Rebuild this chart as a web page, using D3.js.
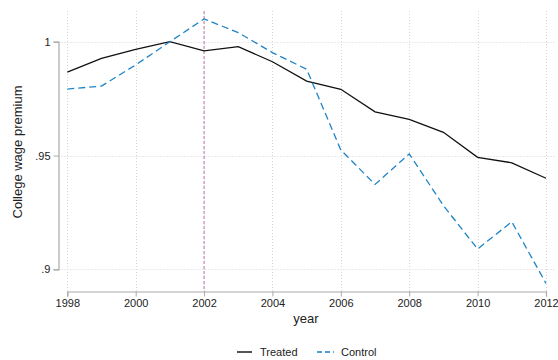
<!DOCTYPE html>
<html><head><meta charset="utf-8">
<script src="https://cdn.jsdelivr.net/npm/d3@7"></script>
<style>body{margin:0;background:#fff}svg{display:block}text{font-family:"Liberation Sans",Arial,sans-serif;fill:#222}</style>
</head><body>
<script>
const years = [1998,1999,2000,2001,2002,2003,2004,2005,2006,2007,2008,2009,2010,2011,2012];
const treated = [0.9866,0.9927,0.9966,1.0000,0.9960,0.9978,0.9912,0.9827,0.9791,0.9692,0.9659,0.9602,0.9492,0.9468,0.9400];
const control = [0.9792,0.9805,0.9898,1.0000,1.0100,1.0040,0.9952,0.9879,0.9524,0.9373,0.9507,0.9280,0.9089,0.9209,0.8938];
const xTicks = [1998,2000,2002,2004,2006,2008,2010,2012];
const yTicks = [0.9,0.95,1];
const yTickLabels = [".9",".95","1"];
const treatYear = 2002;

const W=558,H=360;
const svg=d3.select("body").append("svg").attr("width",W).attr("height",H);
const x=d3.scaleLinear().domain([1998,2012]).range([67.3,546]);
const y=d3.scaleLinear().domain([0.9,1]).range([269.3,41.7]);
const pTop=11, pBottom=291.5, pLeft=58.5, pRight=556;

// grid
const grid=svg.append("g").attr("stroke","#d6d6d6").attr("stroke-width",1).attr("stroke-dasharray","1,2");
grid.selectAll(".v").data(xTicks).join("line").attr("x1",d=>Math.round(x(d))+0.5).attr("x2",d=>Math.round(x(d))+0.5).attr("y1",pTop).attr("y2",pBottom);
grid.selectAll(".h").data(yTicks).join("line").attr("y1",d=>Math.round(y(d))+0.5).attr("y2",d=>Math.round(y(d))+0.5).attr("x1",pLeft).attr("x2",pRight);

// axes
const xAxis=d3.axisBottom(x).tickValues(xTicks).tickFormat(d3.format("d")).tickSizeOuter(0).tickSize(5).tickPadding(3);
const gx=svg.append("g").attr("transform",`translate(0,${pBottom})`).call(xAxis);
const yAxis=d3.axisLeft(y).tickValues(yTicks).tickFormat((d,i)=>yTickLabels[i]).tickSizeOuter(0).tickSize(5).tickPadding(3);
const gy=svg.append("g").attr("transform",`translate(${pLeft},0)`).call(yAxis);
[gx,gy].forEach(g=>{g.select(".domain").attr("stroke","#aaa").attr("stroke-width",1.2);
 g.selectAll(".tick line").attr("stroke","#aaa");
 g.selectAll(".tick text").attr("fill","#222").style("font-size","11px").style("font-family","Liberation Sans, Arial, sans-serif");});

// treatment line
svg.append("line").attr("x1",x(treatYear)).attr("x2",x(treatYear)).attr("y1",pTop).attr("y2",pBottom)
 .attr("stroke","#d9a3c6").attr("stroke-width",1.6).attr("stroke-dasharray","3,2");

const line=d3.line().x((d,i)=>x(years[i])).y(d=>y(d));
svg.append("path").datum(treated).attr("d",line).attr("fill","none").attr("stroke","#111").attr("stroke-width",1.3);
svg.append("path").datum(control).attr("d",line).attr("fill","none").attr("stroke","#1f84c6").attr("stroke-width",1.3).attr("stroke-dasharray","7,4");

// titles
svg.append("text").attr("x",306).attr("y",323).attr("text-anchor","middle").style("font-size","13px").text("year");
svg.append("text").attr("transform","translate(22,152) rotate(-90)").attr("text-anchor","middle").style("font-size","13px").text("College wage premium");

// legend
const lg=svg.append("g");
lg.append("line").attr("x1",237).attr("x2",252).attr("y1",352).attr("y2",352).attr("stroke","#555").attr("stroke-width",2);
lg.append("text").attr("x",260).attr("y",356).style("font-size","11px").text("Treated");
lg.append("line").attr("x1",317).attr("x2",334).attr("y1",352).attr("y2",352).attr("stroke","#4a9fd6").attr("stroke-width",2).attr("stroke-dasharray","5,3");
lg.append("text").attr("x",341).attr("y",356).style("font-size","11px").text("Control");
</script>
</body></html>
